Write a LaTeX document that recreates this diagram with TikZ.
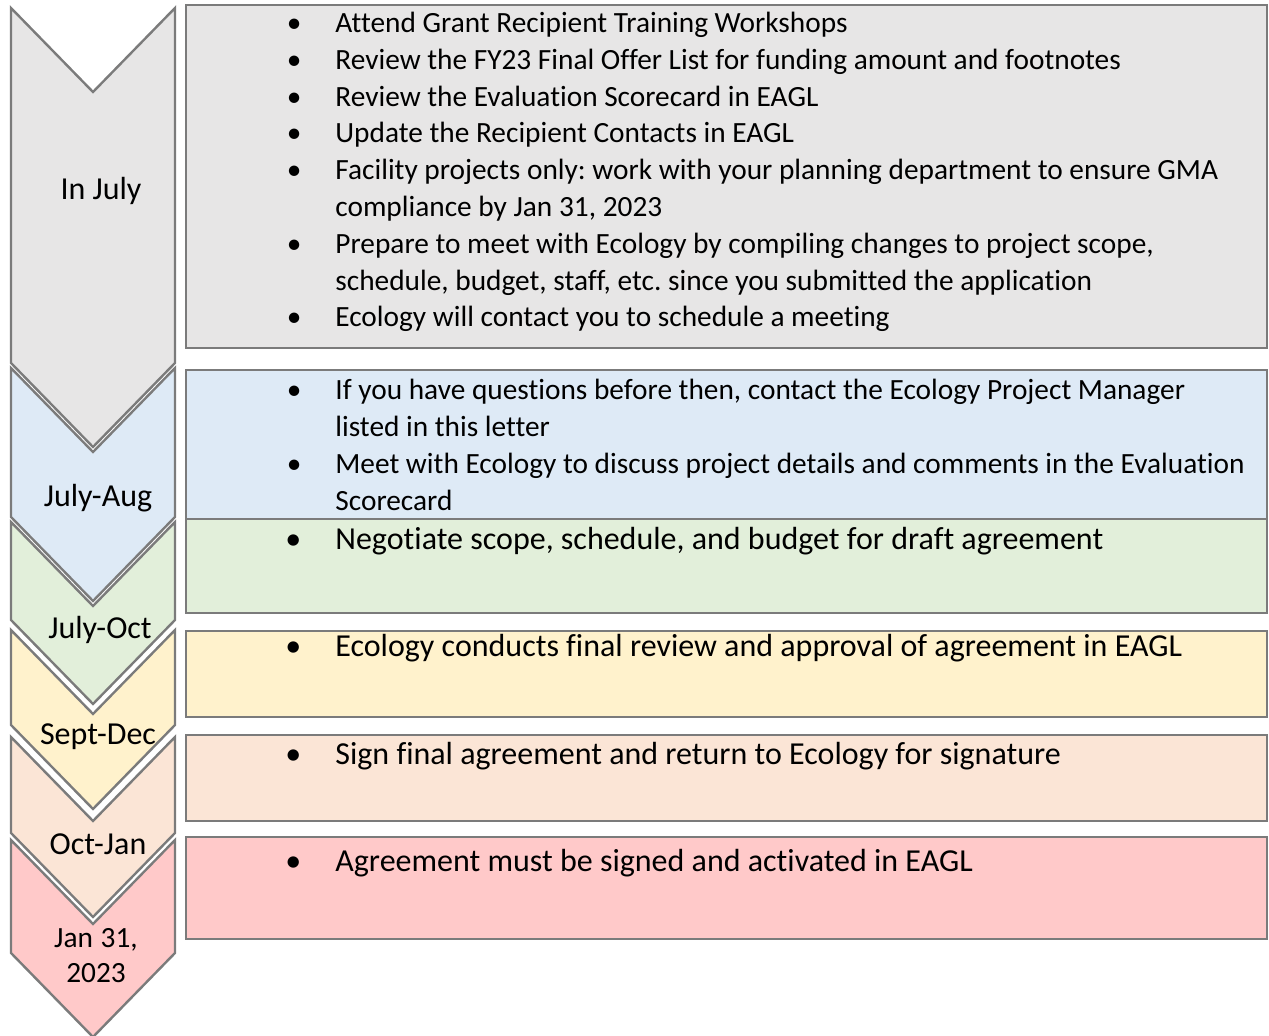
\documentclass[tikz,border=0pt]{standalone}
\usepackage{fontspec}
\setmainfont{Carlito}[Ligatures=NoCommon]
\usepackage{tikz}
\definecolor{grayfill}{HTML}{E7E6E6}
\definecolor{bluefill}{HTML}{DEEAF6}
\definecolor{greenfill}{HTML}{E2EFDA}
\definecolor{yellowfill}{HTML}{FFF2CC}
\definecolor{peachfill}{HTML}{FBE5D6}
\definecolor{pinkfill}{HTML}{FFC9C9}
\definecolor{linegray}{HTML}{7B7B7B}
\newcommand{\bul}{\leavevmode\llap{\textbullet\hspace{17pt}}}
\frenchspacing

\begin{document}
\begin{tikzpicture}
			[x=0.5pt,y=-0.5pt, chev/.style={draw=linegray,line width=1.2pt}, box/.style={draw=linegray,line width=1.2pt},
			plain/.style={execute at begin node={\spaceskip=0pt\xspaceskip=0pt}},
			lbl/.style={plain,font=\fontsize{16}{19}\selectfont,anchor=base,inner sep=0pt},
			small/.style={plain,font=\fontsize{14.67}{18.4}\selectfont,anchor=base west,inner sep=0pt,text width=480pt,align=flush left},
			big/.style={plain,font=\fontsize{16}{19.2}\selectfont,anchor=base west,inner sep=0pt,text width=480pt,align=flush left}]
			\useasboundingbox (0,0) rectangle (1269,1036);
			
			\foreach \t/\b/\c in {8/363/grayfill, 368/517/bluefill, 522/620/greenfill, 630/725/yellowfill, 737/833/peachfill, 840/953/pinkfill}
				\draw[chev, fill=\c] (11,\t) -- (93,\t+84) -- (175,\t) -- (175,\b) -- (93,\b+84) -- (11,\b) -- cycle;
			
			\draw[box, fill=grayfill] (186,5) rectangle (1267,348);
			\draw[box, fill=bluefill] (186,370) rectangle (1267,519);
			\draw[box, fill=greenfill] (186,519) rectangle (1267,613);
			\draw[box, fill=yellowfill] (186,631) rectangle (1267,717);
			\draw[box, fill=peachfill] (186,735) rectangle (1267,821);
			\draw[box, fill=pinkfill] (186,837) rectangle (1267,939);
			
			\node[small] (t1) at (335,32.5) {\bul Attend Grant Recipient Training Workshops\\
				\bul Review the FY23 Final Offer List for funding amount and footnotes\\
				\bul Review the Evaluation Scorecard in EAGL\\
				\bul Update the Recipient Contacts in EAGL\\
				\bul Facility projects only: work with your planning department to ensure GMA\\
				compliance by Jan 31, 2023\\
				\bul Prepare to meet with Ecology by compiling changes to project scope,\\
				schedule, budget, staff, etc. since you submitted the application\\
				\bul Ecology will contact you to schedule a meeting};
			\node[small] (t2) at (335,400) {\bul If you have questions before then, contact the Ecology Project Manager\\
				listed in this letter\\
				\bul Meet with Ecology to discuss project details and comments in the Evaluation\\
				Scorecard};
			\node[big] (t3) at (335,550) {\bul Negotiate scope, schedule, and budget for draft agreement};
			\node[big] (t4) at (335,657) {\bul Ecology conducts final review and approval of agreement in EAGL};
			\node[big] (t5) at (335,765) {\bul Sign final agreement and return to Ecology for signature};
			\node[big] (t6) at (335,871) {\bul Agreement must be signed and activated in EAGL};
			
			\node[lbl] (l1) at (101,200) {In July};
			\node[lbl] (l2) at (98,507) {July-Aug};
			\node[lbl] (l3) at (100,639) {July-Oct};
			\node[lbl] (l4) at (98,745) {Sept-Dec};
			\node[lbl] (l5) at (98,855) {Oct-Jan};
			\node[lbl, font=\fontsize{14.67}{17.5}\selectfont, text width=60pt, align=center] (l6) at (96,947) {Jan 31,\\2023};
			
			\end{tikzpicture}
\end{document}
